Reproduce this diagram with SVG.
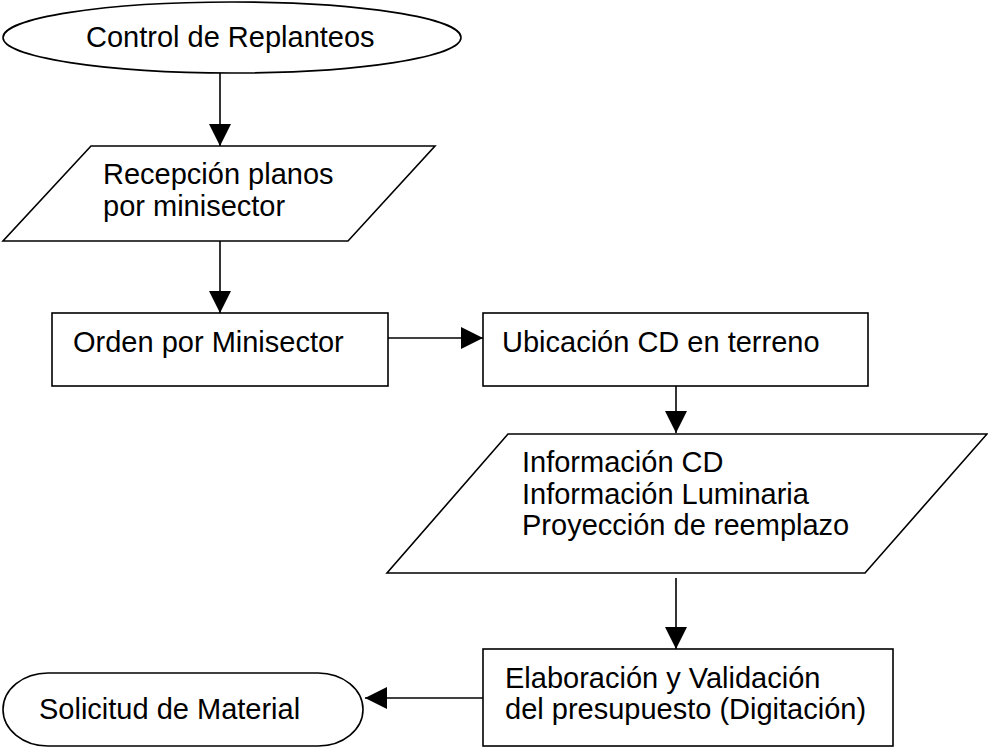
<svg xmlns="http://www.w3.org/2000/svg" width="988" height="749" viewBox="0 0 988 749">
<style>
.shape{fill:#fff;stroke:#000;stroke-width:1.6}
.lbl{font-family:"Liberation Sans",Arial,sans-serif;font-size:29px;fill:#000}
.conn{stroke:#000;stroke-width:1.6;fill:none}
</style>
<defs>
<marker id="arr" markerUnits="userSpaceOnUse" markerWidth="22" markerHeight="22" viewBox="0 0 20 20" refX="20" refY="10" orient="auto">
<path d="M0,0 L20,10 L0,20 Z" fill="#000"/>
</marker>
</defs>
<rect width="988" height="749" fill="#fff"/>
<g id="n1">
<ellipse class="shape" cx="232" cy="37.5" rx="229" ry="35.5"/>
<text class="lbl" x="86" y="47">Control de Replanteos</text>
</g>
<g id="n2">
<polygon class="shape" points="91,146 435,146 348,241 3,241"/>
<text class="lbl" x="103" y="184">Recepción planos</text>
<text class="lbl" x="103" y="216">por minisector</text>
</g>
<g id="n3">
<rect class="shape" x="52" y="313" width="336" height="73"/>
<text class="lbl" x="73" y="352">Orden por Minisector</text>
</g>
<g id="n4">
<rect class="shape" x="483" y="313" width="385" height="73"/>
<text class="lbl" x="502" y="352">Ubicación CD en terreno</text>
</g>
<g id="n5">
<polygon class="shape" points="508,434 987,434 865,573 387,573"/>
<text class="lbl" x="522" y="472">Información CD</text>
<text class="lbl" x="522" y="503.5">Información Luminaria</text>
<text class="lbl" x="522" y="535">Proyección de reemplazo</text>
</g>
<g id="n6">
<rect class="shape" x="483" y="649" width="410" height="97"/>
<text class="lbl" x="505" y="688">Elaboración y Validación</text>
<text class="lbl" x="505" y="719">del presupuesto (Digitación)</text>
</g>
<g id="n7">
<rect class="shape" x="3" y="673" width="360" height="73" rx="45" ry="36.5"/>
<text class="lbl" x="39" y="719">Solicitud de Material</text>
</g>
<g id="connectors">
<line class="conn" x1="220" y1="73" x2="220" y2="146" marker-end="url(#arr)"/>
<line class="conn" x1="220" y1="241" x2="220" y2="313" marker-end="url(#arr)"/>
<line class="conn" x1="388" y1="338" x2="483" y2="338" marker-end="url(#arr)"/>
<line class="conn" x1="676" y1="386" x2="676" y2="433" marker-end="url(#arr)"/>
<line class="conn" x1="676" y1="578" x2="676" y2="649" marker-end="url(#arr)"/>
<line class="conn" x1="483" y1="698" x2="365" y2="698" marker-end="url(#arr)"/>
</g>
</svg>
